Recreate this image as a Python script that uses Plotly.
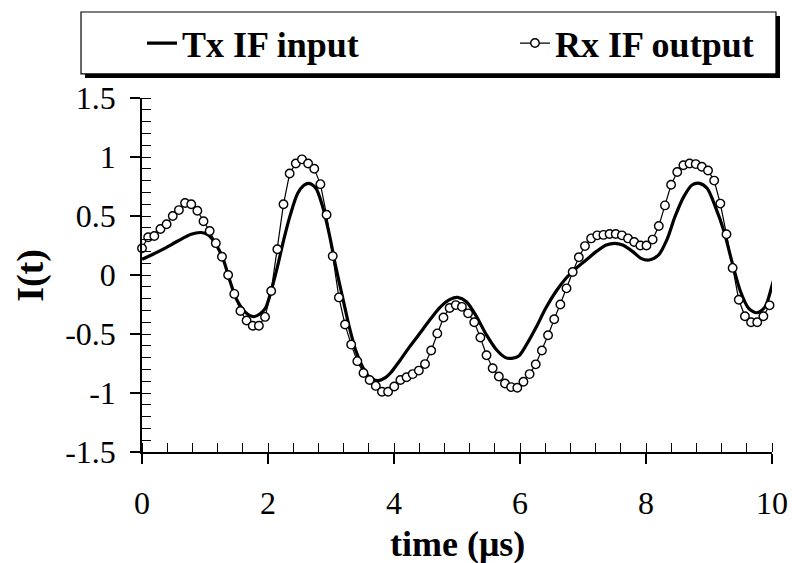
import numpy as np
import plotly.graph_objects as go

# ---- data ----
# Rx IF output: sampled every 1/10.24 us
rx_dt = 1 / 10.24
rx_values = [
    0.226, 0.32, 0.33, 0.39, 0.43, 0.50, 0.55, 0.61, 0.60, 0.545,
    0.455, 0.373, 0.27, 0.155, 0.0, -0.16, -0.305, -0.385, -0.43, -0.43,
    -0.355, -0.135, 0.218, 0.60, 0.86, 0.945, 0.98, 0.945, 0.90, 0.77,
    0.51, 0.16, -0.19, -0.42, -0.59, -0.73, -0.83, -0.89, -0.94, -0.99,
    -0.99, -0.945, -0.89, -0.867, -0.84, -0.81, -0.755, -0.64, -0.495, -0.36,
    -0.28, -0.255, -0.27, -0.325, -0.40, -0.53, -0.68, -0.79, -0.86, -0.92,
    -0.95, -0.955, -0.905, -0.84, -0.757, -0.64, -0.51, -0.375, -0.25, -0.113,
    0.025, 0.15, 0.245, 0.31, 0.336, 0.34, 0.347, 0.347, 0.336, 0.31,
    0.28, 0.25, 0.25, 0.30, 0.415, 0.59, 0.765, 0.873, 0.93, 0.945,
    0.94, 0.918, 0.886, 0.80, 0.605, 0.345, 0.06, -0.21, -0.35, -0.40,
    -0.40, -0.35, -0.257,
]
rx_time = [i * rx_dt for i in range(len(rx_values))]

# Tx IF input: points
tx_time = [
    0.00, 0.15, 0.36, 0.57, 0.78, 0.94, 1.05, 1.18, 1.29, 1.39,
    1.50, 1.63, 1.77, 1.87, 1.96, 2.04, 2.15, 2.25, 2.36, 2.47,
    2.57, 2.65, 2.76, 2.86, 2.97, 3.07, 3.18, 3.29, 3.39, 3.50,
    3.60, 3.74, 3.87, 3.94, 4.10, 4.25, 4.41, 4.57, 4.73, 4.89,
    5.01, 5.15, 5.31, 5.47, 5.63, 5.77, 5.87, 5.98, 6.10, 6.25,
    6.41, 6.57, 6.73, 6.89, 7.05, 7.21, 7.37, 7.50, 7.63, 7.79,
    7.92, 8.05, 8.20, 8.33, 8.46, 8.60, 8.73, 8.85, 8.97, 9.10,
    9.24, 9.37, 9.50, 9.63, 9.76, 9.89, 10.0, 10.05,
]
tx_values = [
    0.133, 0.17, 0.226, 0.288, 0.345, 0.36, 0.34, 0.254, 0.133, -0.04,
    -0.206, -0.31, -0.353, -0.33, -0.28, -0.155, 0.07, 0.30, 0.52, 0.69,
    0.76, 0.777, 0.735, 0.593, 0.353, 0.085, -0.18, -0.44, -0.635, -0.777,
    -0.86, -0.895, -0.867, -0.833, -0.72, -0.607, -0.494, -0.38, -0.274, -0.206,
    -0.19, -0.226, -0.353, -0.51, -0.636, -0.70, -0.706, -0.686, -0.593, -0.45,
    -0.28, -0.14, -0.028, 0.056, 0.127, 0.198, 0.254, 0.268, 0.254, 0.198,
    0.141, 0.127, 0.17, 0.297, 0.494, 0.664, 0.763, 0.777, 0.735, 0.58,
    0.367, 0.10, -0.14, -0.283, -0.32, -0.27, -0.09, 0.0,
]

x_ticks = [0, 2, 4, 6, 8, 10]
x_tick_labels = ["0", "2", "4", "6", "8", "10"]
y_ticks = [1.5, 1, 0.5, 0, -0.5, -1, -1.5]
y_tick_labels = ["1.5", "1", "0.5", "0", "-0.5", "-1", "-1.5"]

series_names = ["Tx IF input", "Rx IF output"]
x_title = "time (μs)"
y_title = "I(t)"

SERIF = "Liberation Serif, Times New Roman, serif"

fig = go.Figure()
fig.add_trace(go.Scatter(
    x=tx_time, y=tx_values, mode="lines", name=series_names[0],
    line=dict(color="black", width=3.2, shape="spline", smoothing=0.8),
    cliponaxis=False, legend="legend",
))
fig.add_trace(go.Scatter(
    x=rx_time, y=rx_values, mode="lines+markers", name=series_names[1],
    line=dict(color="black", width=1.2),
    marker=dict(symbol="circle", size=8.5, color="white",
                line=dict(color="black", width=1.4)),
    cliponaxis=False, legend="legend2",
))

axis_common = dict(
    showgrid=False, zeroline=False, showline=True, linecolor="black",
    linewidth=1.6, tickcolor="black", tickwidth=1.6,
    tickfont=dict(family=SERIF, size=32, color="black"),
)

fig.update_layout(
    width=792, height=563,
    margin=dict(l=142, r=20, t=98, b=111, autoexpand=False),
    paper_bgcolor="white", plot_bgcolor="white",
    xaxis=dict(
        range=[0, 10], tickvals=x_ticks, ticktext=x_tick_labels,
        ticks="outside", ticklen=10, ticklabelstandoff=12,
        minor=dict(dtick=0.4, ticks="inside", ticklen=9, tickwidth=1.4,
                   tickcolor="black", showgrid=False),
        automargin=False,
        **axis_common,
    ),
    yaxis=dict(
        range=[-1.5, 1.5], tickvals=y_ticks, ticktext=y_tick_labels,
        ticks="outside", ticklen=10, ticklabelstandoff=8,
        minor=dict(dtick=0.1, ticks="inside", ticklen=9, tickwidth=1.4,
                   tickcolor="black", showgrid=False),
        automargin=False,
        **axis_common,
    ),
    # overlay axes giving the inner half of the crossing major ticks
    xaxis2=dict(
        overlaying="x", range=[0, 10], tickvals=x_ticks, ticks="inside",
        ticklen=10, tickwidth=1.6, tickcolor="black", showticklabels=False,
        showgrid=False, zeroline=False, showline=False, side="bottom",
        anchor="y",
    ),
    yaxis2=dict(
        overlaying="y", range=[-1.5, 1.5], tickvals=y_ticks, ticks="inside",
        ticklen=10, tickwidth=1.6, tickcolor="black", showticklabels=False,
        showgrid=False, zeroline=False, showline=False, side="left",
        anchor="x",
    ),
    showlegend=True,
    legend=dict(
        orientation="h", x=0.0, xanchor="left", y=1.155, yanchor="middle",
        bgcolor="rgba(0,0,0,0)", borderwidth=0,
        font=dict(family=SERIF, size=36, color="black", weight="bold"),
    ),
    legend2=dict(
        orientation="h", x=0.592, xanchor="left", y=1.155, yanchor="middle",
        bgcolor="rgba(0,0,0,0)", borderwidth=0,
        font=dict(family=SERIF, size=36, color="black", weight="bold"),
    ),
    shapes=[
        # drop shadow
        dict(type="rect", xref="paper", yref="paper",
             x0=-0.0905, x1=1.0127, y0=1.0565, y1=1.2316,
             fillcolor="black", line=dict(width=0), layer="below"),
        # legend frame
        dict(type="rect", xref="paper", yref="paper",
             x0=-0.0968, x1=1.0063, y0=1.068, y1=1.243,
             fillcolor="white", line=dict(color="black", width=1.2),
             layer="below"),
    ],
    annotations=[
        dict(text=x_title, xref="paper", yref="paper", x=0.5, y=-0.26,
             xanchor="center", yanchor="middle", showarrow=False,
             font=dict(family=SERIF, size=36, color="black", weight="bold")),
        dict(text=y_title, xref="paper", yref="paper", x=-0.178, y=0.5,
             xanchor="center", yanchor="middle", showarrow=False, textangle=-90,
             font=dict(family=SERIF, size=38, color="black", weight="bold")),
    ],
)

fig.write_html(
    "out.html",
    config={"displayModeBar": False},
    post_script="document.body.style.margin='0';document.body.style.padding='0';",
)
